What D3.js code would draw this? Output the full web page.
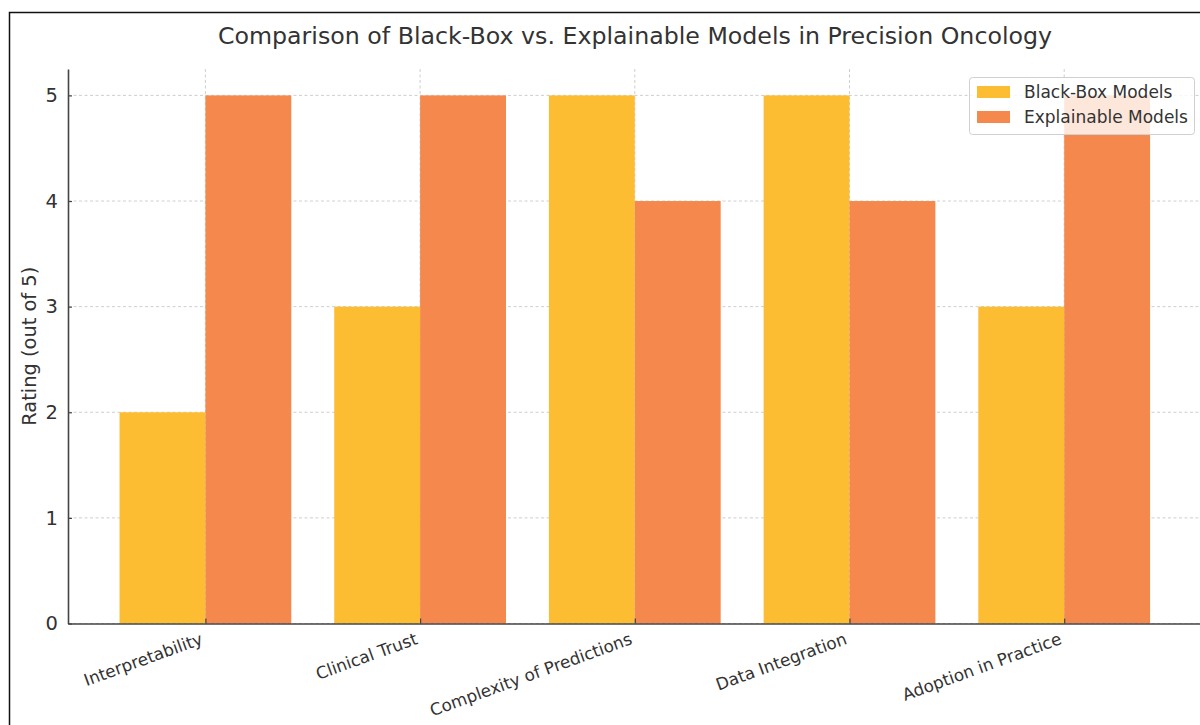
<!DOCTYPE html>
<html><head><meta charset="utf-8">
<script src="https://cdn.jsdelivr.net/npm/d3@7/dist/d3.min.js"></script>
<style>body{margin:0;background:#fff;}svg{display:block;font-family:"DejaVu Sans",sans-serif;}</style>
</head><body>
<svg id="c" width="1200" height="725"></svg>
<script>
const categories = ["Interpretability","Clinical Trust","Complexity of Predictions","Data Integration","Adoption in Practice"];
const blackBox = [2,3,5,5,3];
const explainable = [5,5,4,4,5];
const seriesNames = ["Black-Box Models","Explainable Models"];
const colors = ["#FDBD33","#F5894D"];
const yTicks = [0,1,2,3,4,5];
const title = "Comparison of Black-Box vs. Explainable Models in Precision Oncology";
const yLabel = "Rating (out of 5)";

const svg = d3.select("#c");
const L = 68, R = 1201.6, T = 69, B = 623.5;
const x = d3.scaleLinear().domain([-0.64, 4.64]).range([L, R]);
const y = d3.scaleLinear().domain([0, 5.25]).range([B, T]);
const bw = 0.4;
const textCol = "#333";

// frame
svg.append("path").attr("d", "M9.5,725 V12.5 H1200").attr("fill","none").attr("stroke","#111").attr("stroke-width",1.5);

// grid
const grid = svg.append("g");
yTicks.forEach(t => {
  grid.append("line").attr("x1",L).attr("x2",R).attr("y1",y(t)).attr("y2",y(t))
    .attr("stroke","#c8c8c8").attr("stroke-width",0.9).attr("stroke-dasharray","3,2.5");
});
categories.forEach((c,i) => {
  grid.append("line").attr("x1",x(i)).attr("x2",x(i)).attr("y1",T).attr("y2",B)
    .attr("stroke","#c8c8c8").attr("stroke-width",0.9).attr("stroke-dasharray","3,2.5");
});

// bars
const data = [blackBox, explainable];
data.forEach((arr, s) => {
  svg.append("g").selectAll("rect").data(arr).join("rect")
    .attr("x", (d,i) => x(i + (s===0 ? -bw : 0)))
    .attr("width", (d,i) => x(i + bw) - x(i))
    .attr("y", d => y(d))
    .attr("height", d => y(0) - y(d))
    .attr("fill", colors[s]);
});

// axes
const yAxis = d3.axisLeft(y).tickValues(yTicks).tickFormat(d3.format("d")).tickSizeInner(-4).tickSizeOuter(0).tickPadding(10);
const gy = svg.append("g").attr("transform",`translate(${L},0)`).call(yAxis);
gy.select(".domain").attr("stroke","#444").attr("stroke-width",1.6);
gy.selectAll(".tick line").attr("stroke","#444").attr("stroke-width",1.2);
gy.selectAll(".tick text").attr("font-size",19.5).attr("fill",textCol).attr("font-family","DejaVu Sans");

const xAxis = d3.axisBottom(x).tickValues(d3.range(categories.length)).tickFormat(i => categories[i]).tickSizeInner(-5).tickSizeOuter(0);
const gx = svg.append("g").attr("transform",`translate(0,${B})`).call(xAxis);
gx.select(".domain").attr("stroke","#444").attr("stroke-width",1.6);
gx.selectAll(".tick line").attr("stroke","#444").attr("stroke-width",1.2);
gx.selectAll(".tick text").attr("font-size",16.8).attr("fill",textCol).attr("font-family","DejaVu Sans")
  .attr("text-anchor","end").attr("dy",null).attr("y",0)
  .attr("transform","translate(-2,20) rotate(-20)");

// title
svg.append("text").attr("x",635).attr("y",44).attr("text-anchor","middle")
  .attr("font-size",23.7).attr("fill",textCol).text(title);

// y label
svg.append("text").attr("transform",`translate(36,${(T+B)/2}) rotate(-90)`).attr("text-anchor","middle")
  .attr("font-size",19.4).attr("fill",textCol).text(yLabel);

// legend
const lg = svg.append("g").attr("transform","translate(969.5,77.5)");
lg.append("rect").attr("width",225).attr("height",57).attr("rx",3)
  .attr("fill","rgba(255,255,255,0.8)").attr("stroke","#d0d0d0").attr("stroke-width",1);
seriesNames.forEach((n,i) => {
  lg.append("rect").attr("x",7.5).attr("y",8.5 + i*25).attr("width",33).attr("height",12).attr("fill",colors[i]);
  lg.append("text").attr("x",54.5).attr("y",20.5 + i*25).attr("font-size",17).attr("fill",textCol).text(n);
});
</script>
</body></html>
